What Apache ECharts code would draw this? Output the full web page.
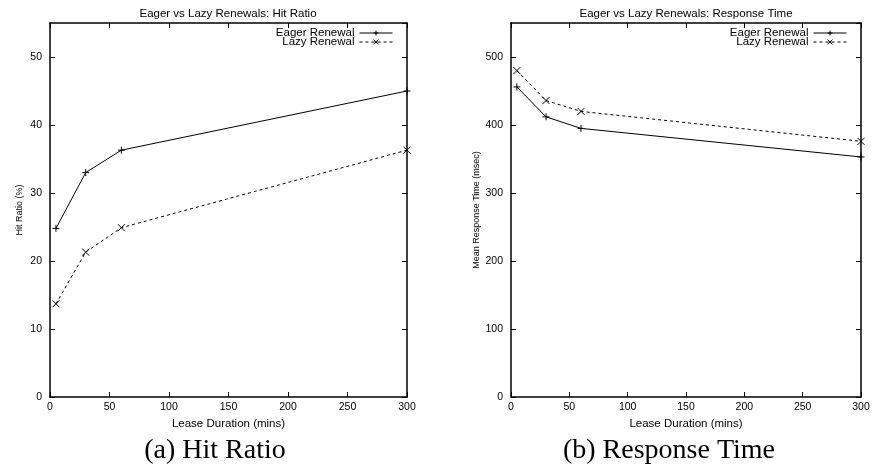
<!DOCTYPE html>
<html>
<head>
    <meta charset="utf-8">
    <title>Eager vs Lazy Renewals</title>
    <script src="https://cdn.jsdelivr.net/npm/echarts@6/dist/echarts.min.js"></script>
    <style>
        html, body { margin: 0; padding: 0; background: #fff; }
        #main { width: 873px; height: 465px; }
    </style>
</head>
<body>
<div id="main"></div>
<script>
    // lease durations (mins)
    var leaseMins = [5, 30, 60, 300];
    // hit ratio (%)
    var hitEager = [24.8, 33.0, 36.3, 45.0];
    var hitLazy = [13.7, 21.3, 24.9, 36.3];
    // mean response time (msec)
    var respEager = [456, 412, 395, 353];
    var respLazy = [480, 436, 420, 376];

    function pairs(xs, ys) {
        return xs.map(function (x, i) { return [x, ys[i]]; });
    }

    var font = 'Liberation Sans, Arial, sans-serif';
    var serif = 'Liberation Serif, Times New Roman, serif';
    var plus = 'path://M0,5L10,5M5,0L5,10';
    var cross = 'path://M0,0L10,10M0,10L10,0';

    function xAxis(gi, top) {
        return {
            type: 'value', gridIndex: gi, min: 0, max: 300, interval: 50,
            position: top ? 'top' : 'bottom',
            name: top ? '' : 'Lease Duration (mins)',
            nameLocation: 'middle', nameGap: 16,
            nameTextStyle: { fontFamily: font, fontSize: 11.5, color: '#000' },
            axisLine: { onZero: false, lineStyle: { color: '#000', width: 1.5 } },
            axisTick: { inside: true, length: 5, lineStyle: { color: '#000' } },
            axisLabel: { show: !top, fontFamily: font, fontSize: 10.5, color: '#000', margin: 5 },
            splitLine: { show: false }
        };
    }

    function yAxis(gi, right, max, step, name, gap) {
        return {
            type: 'value', gridIndex: gi, min: 0, max: max, interval: step,
            position: right ? 'right' : 'left',
            name: right ? '' : name,
            nameLocation: 'middle', nameGap: gap,
            nameTextStyle: { fontFamily: font, fontSize: 9, color: '#000' },
            axisLine: { onZero: false, lineStyle: { color: '#000', width: 1.5 } },
            axisTick: { inside: true, length: 5, lineStyle: { color: '#000' } },
            axisLabel: { show: !right, showMaxLabel: false, fontFamily: font, fontSize: 10.5, color: '#000', margin: 8 },
            splitLine: { show: false }
        };
    }

    function line(name, xi, yi, ys, dashed, sym) {
        return {
            name: name, type: 'line', xAxisIndex: xi, yAxisIndex: yi,
            data: pairs(leaseMins, ys),
            symbol: sym, symbolSize: 7,
            itemStyle: { color: '#000', borderColor: '#000', borderWidth: 1 },
            lineStyle: { color: '#000', width: 1, type: dashed ? [3, 3] : 'solid' },
            animation: false
        };
    }

    function legend(name, right, top) {
        return {
            data: [name], right: right, top: top, padding: 0,
            align: 'right', itemWidth: 33, itemHeight: 6,
            lineStyle: { width: 1 },
            itemStyle: { borderWidth: 1 },
            textStyle: { fontFamily: font, fontSize: 11.5, color: '#000' }
        };
    }

    function heading(text, x, y, size, family) {
        return {
            text: text, left: x, top: y, textAlign: 'center', padding: 0,
            textStyle: { fontFamily: family, fontSize: size, fontWeight: 'normal', color: '#000' }
        };
    }

    var chart = echarts.init(document.getElementById('main'));

    chart.setOption({
        backgroundColor: '#fff',
        animation: false,
        title: [
            heading('Eager vs Lazy Renewals: Hit Ratio', 228, 8, 11.5, font),
            heading('Eager vs Lazy Renewals: Response Time', 686, 8, 11.5, font),
            heading('(a) Hit Ratio', 215, 437, 28, serif),
            heading('(b) Response Time', 669, 437, 28, serif)
        ],
        legend: [
            legend('Eager Renewal', 480, 27),
            legend('Lazy Renewal', 480, 36),
            legend('Eager Renewal', 26, 27),
            legend('Lazy Renewal', 26, 36)
        ],
        grid: [
            { left: 50, right: 466, top: 23, bottom: 68 },
            { left: 511, right: 12, top: 23, bottom: 68 }
        ],
        xAxis: [xAxis(0, false), xAxis(0, true), xAxis(1, false), xAxis(1, true)],
        yAxis: [
            yAxis(0, false, 55, 10, 'Hit Ratio (%)', 26),
            yAxis(0, true, 55, 10, '', 0),
            yAxis(1, false, 550, 100, 'Mean Response Time (msec)', 30),
            yAxis(1, true, 550, 100, '', 0)
        ],
        series: [
            line('Eager Renewal', 0, 0, hitEager, false, plus),
            line('Lazy Renewal', 0, 0, hitLazy, true, cross),
            line('Eager Renewal', 2, 2, respEager, false, plus),
            line('Lazy Renewal', 2, 2, respLazy, true, cross)
        ]
    });
</script>
</body>
</html>
